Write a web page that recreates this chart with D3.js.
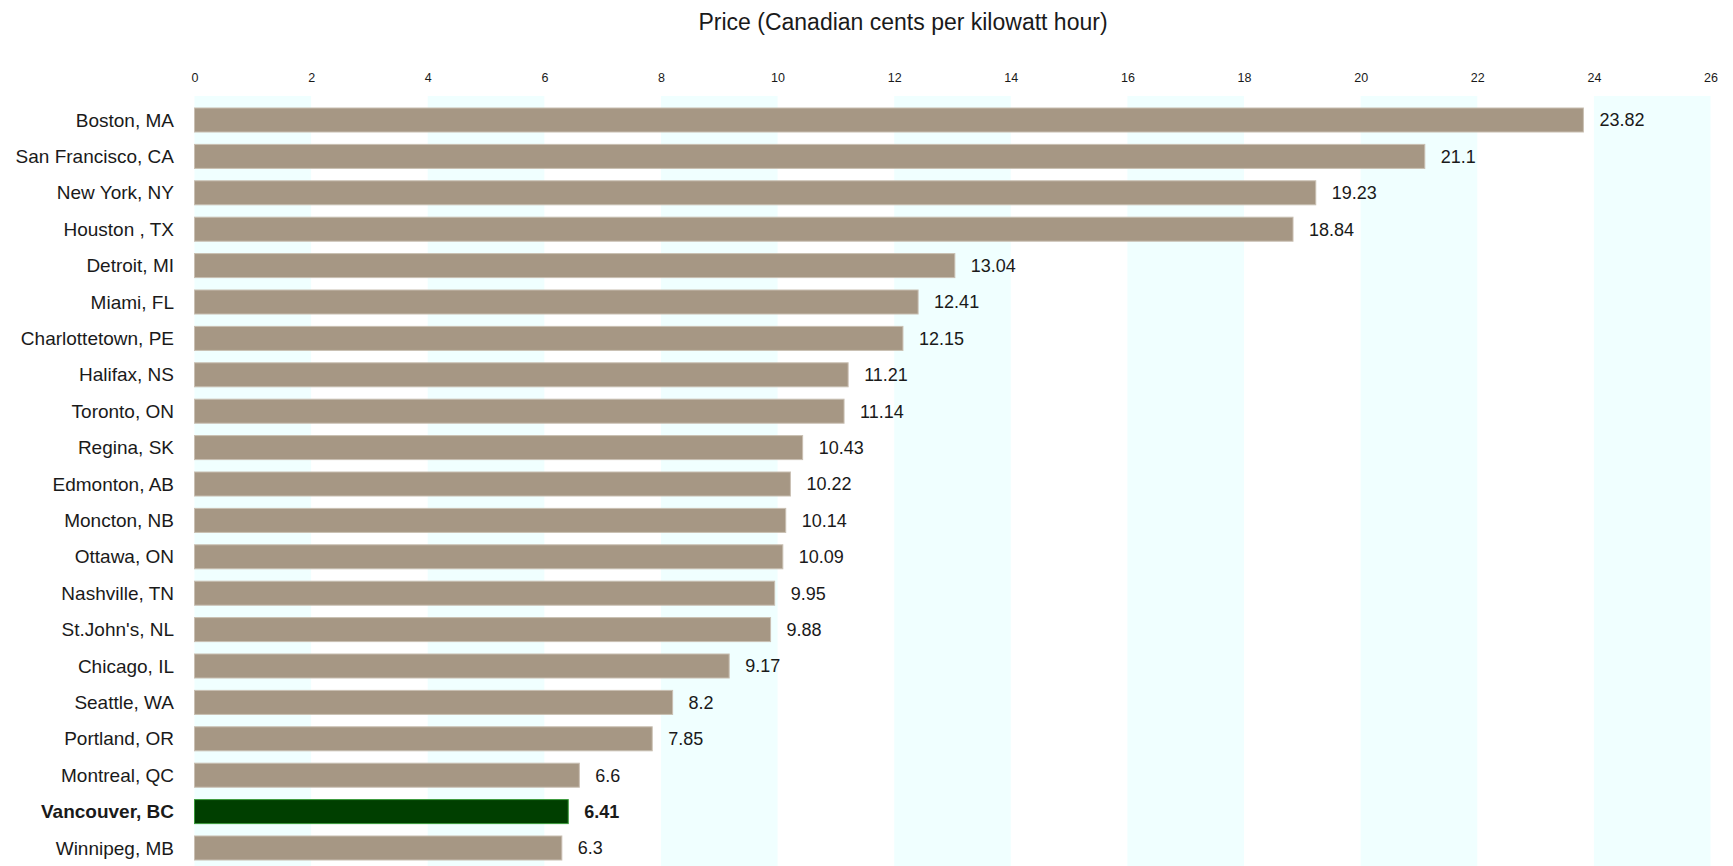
<!DOCTYPE html>
<html>
<head>
<meta charset="utf-8">
<script src="https://cdn.jsdelivr.net/npm/d3@7"></script>
<style>
  html, body { margin: 0; padding: 0; background: #fff; }
  svg { display: block; }
  text { font-family: "Liberation Sans", "DejaVu Sans", sans-serif; fill: #1a1a1a; }
</style>
</head>
<body>
<svg id="chart" width="1733" height="866"></svg>
<script>
const cities = ["Boston, MA","San Francisco, CA","New York, NY","Houston , TX","Detroit, MI","Miami, FL","Charlottetown, PE","Halifax, NS","Toronto, ON","Regina, SK","Edmonton, AB","Moncton, NB","Ottawa, ON","Nashville, TN","St.John's, NL","Chicago, IL","Seattle, WA","Portland, OR","Montreal, QC","Vancouver, BC","Winnipeg, MB"];
const prices = [23.82,21.1,19.23,18.84,13.04,12.41,12.15,11.21,11.14,10.43,10.22,10.14,10.09,9.95,9.88,9.17,8.2,7.85,6.6,6.41,6.3];
const valueLabels = ["23.82","21.1","19.23","18.84","13.04","12.41","12.15","11.21","11.14","10.43","10.22","10.14","10.09","9.95","9.88","9.17","8.2","7.85","6.6","6.41","6.3"];
const tickValues = [0,2,4,6,8,10,12,14,16,18,20,22,24,26];
const highlight = "Vancouver, BC";
const axisTitle = "Price (Canadian cents per kilowatt hour)";

const svg = d3.select("#chart");
const x = d3.scaleLinear().domain([0, 26]).range([194.5, 1710.5]);
const y = d3.scaleBand().domain(cities).range([101.8, 866.2]).paddingInner(0.34).paddingOuter(0.17);

// alternating background bands
const bandPairs = d3.range(0, 26, 4).map(v => [v, v + 2]);
svg.append("g").selectAll("rect").data(bandPairs).join("rect")
  .attr("x", d => x(d[0]))
  .attr("width", d => x(d[1]) - x(d[0]))
  .attr("y", 96)
  .attr("height", 866 - 96)
  .attr("fill", "#f0ffff");

// top axis
const axis = d3.axisTop(x).tickValues(tickValues).tickSize(0).tickPadding(0);
const gAxis = svg.append("g").attr("transform", "translate(0,82)").call(axis);
gAxis.select(".domain").remove();
gAxis.selectAll("text").style("font-size", "12.5px").attr("fill", "#1a1a1a");

// title
svg.append("text").attr("x", 903).attr("y", 30).attr("text-anchor", "middle")
  .style("font-size", "23px").text(axisTitle);

// bars
svg.append("g").selectAll("rect").data(cities).join("rect")
  .attr("x", x(0))
  .attr("y", d => y(d))
  .attr("width", (d, i) => x(prices[i]) - x(0))
  .attr("height", y.bandwidth())
  .attr("fill", d => d === highlight ? "#003f00" : "#a69784")
  .attr("stroke", d => d === highlight ? "#3a9a3a" : "#c9bfb2")
  .attr("stroke-width", 1);

// category labels
svg.append("g").selectAll("text").data(cities).join("text")
  .attr("x", 174)
  .attr("y", d => y(d) + y.bandwidth() / 2)
  .attr("dy", "0.35em")
  .attr("text-anchor", "end")
  .style("font-size", "19px")
  .style("font-weight", d => d === highlight ? "bold" : "normal")
  .attr("fill", d => d === highlight ? "#000" : "#1a1a1a")
  .text(d => d);

// value labels
svg.append("g").selectAll("text").data(cities).join("text")
  .attr("x", (d, i) => x(prices[i]) + 16)
  .attr("y", d => y(d) + y.bandwidth() / 2)
  .attr("dy", "0.35em")
  .style("font-size", "18px")
  .style("font-weight", d => d === highlight ? "bold" : "normal")
  .attr("fill", d => d === highlight ? "#000" : "#1a1a1a")
  .text((d, i) => valueLabels[i]);
</script>
</body>
</html>
